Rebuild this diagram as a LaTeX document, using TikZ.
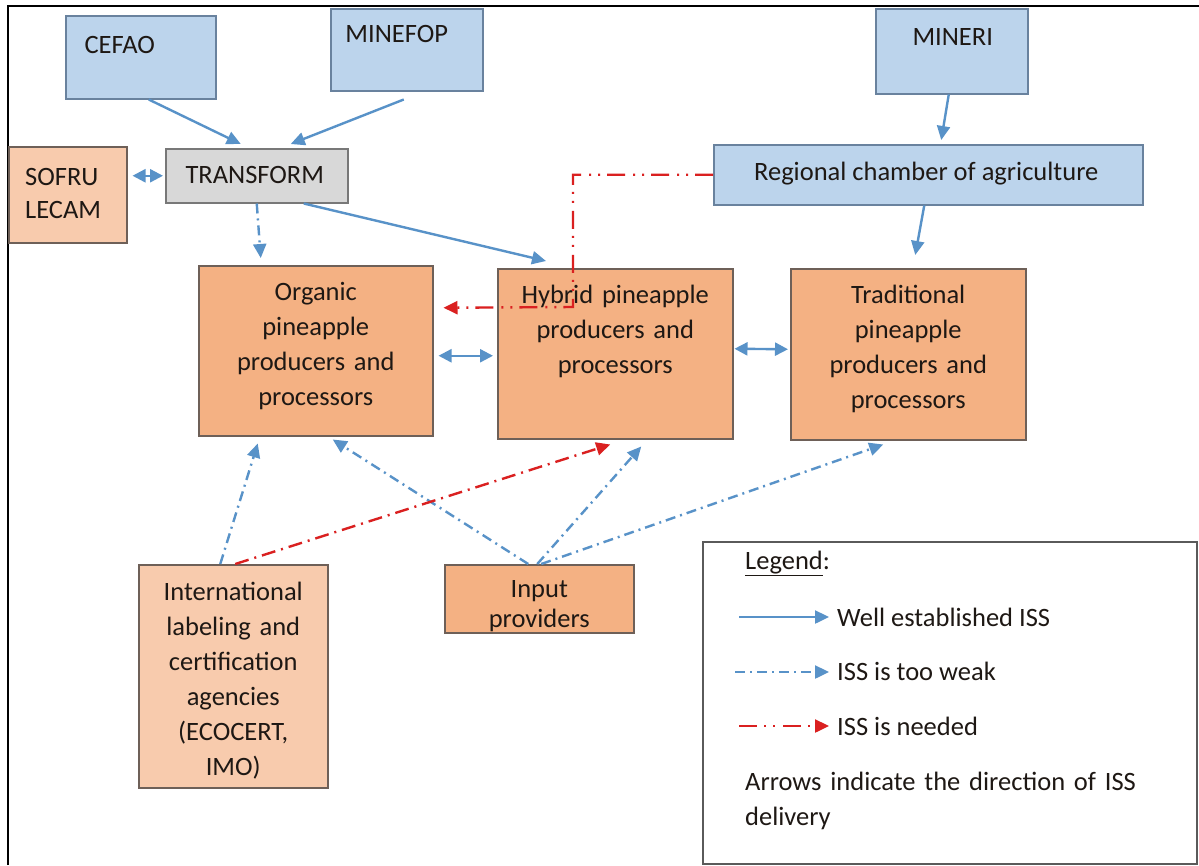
\documentclass[tikz,border=0pt]{standalone}
\usepackage{fontspec}
\setmainfont{Carlito}
\usetikzlibrary{arrows.meta}

\definecolor{blueF}{RGB}{188,212,236}
\definecolor{blueE}{RGB}{105,130,158}
\definecolor{orangeF}{RGB}{244,177,131}
\definecolor{peachF}{RGB}{248,203,173}
\definecolor{grayF}{RGB}{216,216,216}
\definecolor{grayE}{RGB}{120,120,120}
\definecolor{edgeC}{RGB}{110,96,88}
\definecolor{txtC}{RGB}{30,24,20}
\definecolor{arrowC}{RGB}{88,146,200}
\definecolor{redC}{RGB}{218,32,32}
\definecolor{legendE}{RGB}{90,90,90}

\tikzset{
  box/.style={draw=edgeC, line width=1.5pt, inner sep=0pt, anchor=north west},
  bluebox/.style={box, fill=blueF, draw=blueE},
  orangebox/.style={box, fill=orangeF},
  peachbox/.style={box, fill=peachF},
  graybox/.style={box, fill=grayF, draw=grayE},
  txt/.style={font=\fontsize{26.5}{35}\selectfont, text=txtC, inner sep=0pt},
  lbl/.style={txt, anchor=base, align=center},
  tipend/.style={-{Triangle[length=14pt,width=13pt]}},
  bothends/.style={{Triangle[length=13pt,width=13pt]}-{Triangle[length=13pt,width=13pt]}},
  wellline/.style={draw=arrowC, line width=2.4pt},
  weakline/.style={draw=arrowC, line width=2.4pt, dash pattern=on 10pt off 5pt on 2pt off 5pt},
  needline/.style={draw=redC, line width=2.4pt, dash pattern=on 18pt off 7pt on 2pt off 7pt on 2pt off 8pt},
  needdot/.style={draw=redC, line width=2.4pt, dash pattern=on 14pt off 6pt on 2pt off 6pt},
}

\begin{document}
\begin{tikzpicture}[x=1pt, y=-1pt]
\useasboundingbox (0,0) rectangle (1199,865);
\fill[white] (0,0) rectangle (1199,865);

% outer frame (left and top edges)
\draw[line width=2pt, black] (8,865) -- (8,6) -- (1199,6);

% ministries and agencies
\node[bluebox, minimum width=150pt, minimum height=83pt,
  label={[lbl, xshift=-21pt, yshift=-38pt]north:CEFAO}] (cefao) at (65,15) {};
\node[bluebox, minimum width=152pt, minimum height=82pt,
  label={[lbl, xshift=-10pt, yshift=-34pt]north:MINEFOP}] (minefop) at (330,8) {};
\node[bluebox, minimum width=152pt, minimum height=85pt,
  label={[lbl, xshift=1pt, yshift=-37pt]north:MINERI}] (mineri) at (875,8) {};
\node[bluebox, minimum width=429pt, minimum height=60pt,
  label={[lbl, xshift=-2pt, yshift=-36pt]north:Regional chamber of agriculture}] (regional) at (713,144) {};
\node[graybox, minimum width=182pt, minimum height=54pt,
  label={[lbl, xshift=-2pt, yshift=-35pt]north:TRANSFORM}] (transform) at (165,148) {};
\node[peachbox, minimum width=118pt, minimum height=96pt,
  label={[txt, font=\fontsize{26.5}{33}\selectfont, anchor=base west, align=left, text width=100pt,
          xshift=17pt, yshift=-39pt]north west:SOFRU\\LECAM}] (sofru) at (8,146) {};

% producer groups
\node[orangebox, minimum width=234pt, minimum height=170pt,
  label={[lbl, text width=225pt, yshift=-35pt]north:Organic\\pineapple\\producers and\\processors}] (organic) at (198,265) {};
\node[orangebox, minimum width=235pt, minimum height=170pt,
  label={[lbl, text width=226pt, yshift=-35pt]north:Hybrid pineapple\\producers and\\processors}] (hybrid) at (497,268) {};
\node[orangebox, minimum width=235pt, minimum height=171pt,
  label={[lbl, text width=226pt, yshift=-35pt]north:Traditional\\pineapple\\producers and\\processors}] (traditional) at (790,268) {};

% support providers
\node[peachbox, minimum width=189pt, minimum height=223pt,
  label={[lbl, text width=180pt, yshift=-36pt]north:International\\labeling and\\certification\\agencies\\(ECOCERT,\\IMO)}] (intl) at (138,564) {};
\node[orangebox, minimum width=189pt, minimum height=68pt,
  label={[lbl, font=\fontsize{26.5}{30}\selectfont, text width=180pt, yshift=-33pt]north:Input\\providers}] (input) at (444,564) {};

% well established ISS
\draw[wellline, tipend] ([xshift=8pt]cefao.south) -- ([shift={(-16pt,4pt)}]transform.north);
\draw[wellline, tipend] ([shift={(-3pt,-8pt)}]minefop.south) -- ([shift={(34pt,4pt)}]transform.north);
\draw[wellline, tipend] ([xshift=-3pt]mineri.south) -- ([shift={(13pt,4pt)}]regional.north);
\draw[wellline, tipend] ([xshift=-4pt]regional.south) -- ([shift={(7pt,13pt)}]traditional.north);
\draw[wellline, tipend] ([xshift=47pt]transform.south) -- ([shift={(49pt,7pt)}]hybrid.north west);
\draw[wellline, bothends, shorten <=5pt, shorten >=2pt] (sofru.east |- transform.west) -- (transform.west);
\draw[wellline, bothends] ([shift={(5pt,-5pt)}]organic.east) -- ([shift={(-4pt,-2pt)}]hybrid.west);
\draw[wellline, bothends] ([shift={(1pt,5pt)}]hybrid.east) -- ([shift={(-2pt,5pt)}]traditional.west);

% ISS too weak
\draw[weakline, tipend] (transform.south) -- ([shift={(-55pt,7pt)}]organic.north);
\draw[weakline, tipend] ([xshift=-13pt]intl.north) -- ([shift={(-58pt,-7pt)}]organic.south);
\draw[weakline, tipend] ([xshift=-11pt]input.north) -- ([shift={(17pt,-3pt)}]organic.south);
\draw[weakline, tipend] ([xshift=-2pt]input.north) -- ([shift={(26pt,-7pt)}]hybrid.south);
\draw[weakline, tipend] ([xshift=2pt]input.north) -- ([shift={(-25pt,-4pt)}]traditional.south);

% ISS needed
\coordinate (redbend) at (573,307);
\draw[needline, tipend] (regional.west) -| (redbend) -- ([shift={(10pt,43pt)}]organic.east);
\draw[needdot, tipend] ([xshift=2pt]intl.north) -- ([shift={(-5pt,-5pt)}]hybrid.south);

% legend
\node[draw=legendE, line width=1.8pt, fill=white, inner sep=0pt, anchor=north west,
  minimum width=494pt, minimum height=322pt] (legend) at (702,541) {};
\node[txt, anchor=base west] (legtitle) at (745,569) {\underline{Legend}:};
\node[txt, anchor=base west] (keywell) at (837,626) {Well established ISS};
\node[txt, anchor=base west] (keyweak) at (837,680) {ISS is too weak};
\node[txt, anchor=base west] (keyneed) at (837,735) {ISS is needed};
\node[txt, anchor=base west, align=left, text width=440pt] (keynote) at (745,790)
  {Arrows indicate the direction of ISS\\delivery};
\coordinate (wellA) at (739,617);
\coordinate (wellB) at (829,617);
\coordinate (weakA) at (735,672);
\coordinate (weakB) at (829,672);
\coordinate (needA) at (739,726);
\coordinate (needB) at (829,726);
\draw[wellline, tipend] (wellA) -- (wellB);
\draw[weakline, tipend] (weakA) -- (weakB);
\draw[needline, tipend] (needA) -- (needB);
\end{tikzpicture}
\end{document}
